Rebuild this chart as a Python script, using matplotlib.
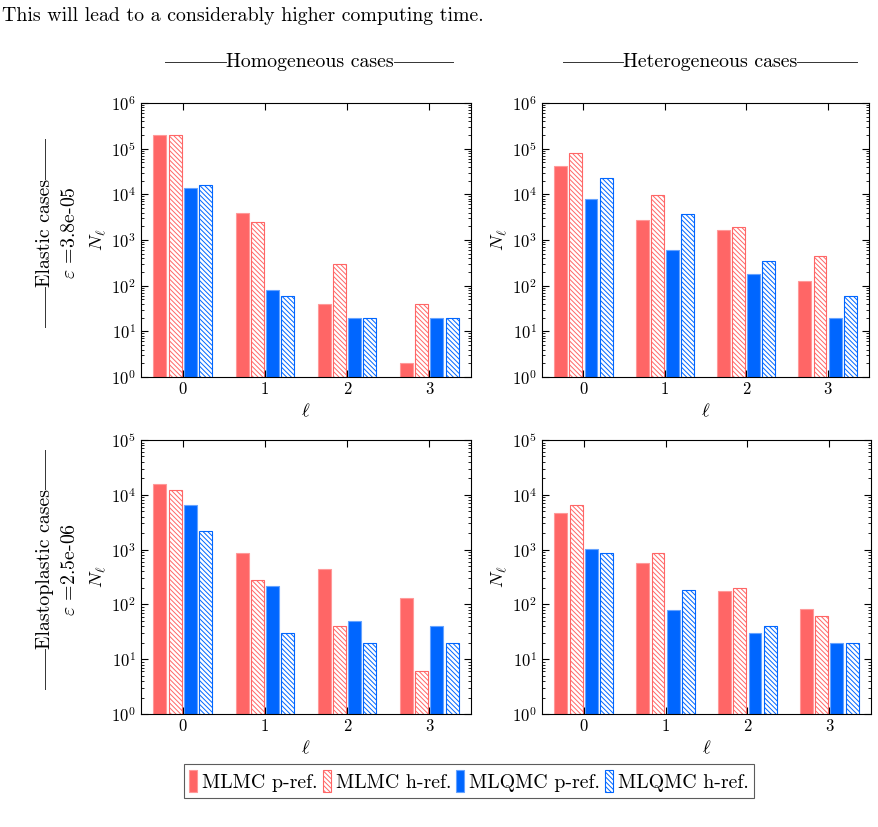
import matplotlib
matplotlib.use("Agg")
import matplotlib.pyplot as plt
from matplotlib.lines import Line2D
import numpy as np

plt.rcParams['font.family'] = 'serif'
plt.rcParams['font.serif'] = ['cmr10', 'DejaVu Serif']
plt.rcParams['mathtext.fontset'] = 'cm'
plt.rcParams['axes.formatter.use_mathtext'] = True
plt.rcParams['hatch.linewidth'] = 0.7

# levels and series
levels = [0, 1, 2, 3]
series = ['MLMC p-ref.', 'MLMC h-ref.', 'MLQMC p-ref.', 'MLQMC h-ref.']

# elastic, homogeneous
el_hom = [[2.0e5, 4000, 40, 2],
          [2.0e5, 2500, 300, 40],
          [1.4e4, 80, 20, 20],
          [1.6e4, 60, 20, 20]]
# elastic, heterogeneous
el_het = [[4.2e4, 2800, 1650, 125],
          [8.0e4, 9500, 1950, 440],
          [8.0e3, 600, 180, 20],
          [2.3e4, 3800, 340, 60]]
# elastoplastic, homogeneous
ep_hom = [[1.6e4, 880, 440, 130],
          [1.2e4, 280, 40, 6],
          [6.5e3, 220, 50, 40],
          [2.2e3, 30, 20, 20]]
# elastoplastic, heterogeneous
ep_het = [[4.7e3, 570, 175, 82],
          [6.5e3, 870, 200, 62],
          [1.03e3, 80, 30, 20],
          [850, 180, 40, 20]]

col_titles = ['Homogeneous cases', 'Heterogeneous cases']
row_titles = ['Elastic cases', 'Elastoplastic cases']
row_eps = [r'$\varepsilon$ =3.8e-05', r'$\varepsilon$ =2.5e-06']
row_ymax = [1e6, 1e5]

red = '#FF6666'
blue = '#0066FF'
hatch = '\\' * 7
styles = [dict(color=red, edgecolor='#FF9999', hatch=None),
          dict(color='white', edgecolor=red, hatch=hatch),
          dict(color=blue, edgecolor='#66A3FF', hatch=None),
          dict(color='white', edgecolor=blue, hatch=hatch)]

W, H = 879, 827
fig = plt.figure(figsize=(W / 100, H / 100), dpi=100)
fs = 14.3

fig.text(2 / W, 1 - 16 / H, 'This will lead to a considerably higher computing time.',
         fontsize=fs, va='center', ha='left')

# axes boxes in pixels: left, top, right, bottom
boxes = [[(141, 103, 471, 377), (542, 103, 869, 377)],
         [(141, 440, 471, 714), (542, 440, 871, 714)]]
data = [[el_hom, el_het], [ep_hom, ep_het]]

x = np.arange(len(levels))
pitch = 0.186
bw = 0.158

handles = []
for r in range(2):
    for c in range(2):
        l, t, rr, b = boxes[r][c]
        ax = fig.add_axes([l / W, 1 - b / H, (rr - l) / W, (b - t) / H])
        for i in range(4):
            st = styles[i]
            bars = ax.bar(x + (i - 1.5) * pitch, data[r][c][i], width=bw,
                          color=st['color'], edgecolor=st['edgecolor'],
                          hatch=st['hatch'], linewidth=0.8, label=series[i])
            if r == 0 and c == 0:
                handles.append(bars)
        ax.set_yscale('log')
        ax.set_ylim(1, row_ymax[r])
        ax.set_xlim(-0.51, 3.51)
        ax.set_xticks(x)
        ax.set_xticklabels([str(v) for v in levels])
        ax.tick_params(which='both', direction='in', top=True, right=True,
                       labelsize=12)
        ax.tick_params(which='major', length=5, width=0.8)
        ax.tick_params(which='minor', length=2.5, width=0.6)
        ax.tick_params(axis='x', which='minor', top=False, bottom=False)
        ax.set_xlabel(r'$\ell$', fontsize=13.5, labelpad=4)
        ax.set_ylabel(r'$N_\ell$', fontsize=13.5, labelpad=2)
        for s in ax.spines.values():
            s.set_linewidth(0.8)

fig.canvas.draw()
rend = fig.canvas.get_renderer()

# column headers with rules touching the text
for c, (x0, x1, tx) in enumerate([(165, 453, 310), (563, 857, 710)]):
    yy = 1 - 62 / H
    t = fig.text(tx / W, yy, col_titles[c], fontsize=fs, ha='center', va='center')
    bb = t.get_window_extent(rend).transformed(fig.transFigure.inverted())
    fig.add_artist(Line2D([x0 / W, bb.x0], [yy, yy], color='#333333', lw=0.7))
    fig.add_artist(Line2D([bb.x1, x1 / W], [yy, yy], color='#333333', lw=0.7))

# row titles with rules
for r, (y0, y1, ty) in enumerate([(139, 327, 233), (450, 689, 569)]):
    xx = 45 / W
    t = fig.text(xx, 1 - ty / H, row_titles[r], fontsize=fs, rotation=90,
                 ha='center', va='center')
    bb = t.get_window_extent(rend).transformed(fig.transFigure.inverted())
    fig.add_artist(Line2D([xx, xx], [1 - y0 / H, bb.y1], color='#333333', lw=0.7))
    fig.add_artist(Line2D([xx, xx], [bb.y0, 1 - y1 / H], color='#333333', lw=0.7))
    fig.text(70 / W, 1 - ty / H, row_eps[r], fontsize=fs, rotation=90,
             ha='center', va='center')

leg = fig.legend(handles=handles, labels=series, loc='center',
                 bbox_to_anchor=(469 / W, 1 - 781 / H), ncol=4, fontsize=fs,
                 frameon=True, fancybox=False, edgecolor='#333333',
                 handlelength=0.4, handleheight=1.3, handletextpad=0.25,
                 columnspacing=0.25, borderpad=0.3, borderaxespad=0)
leg.get_frame().set_linewidth(0.8)

fig.savefig('out.png', dpi=100)
